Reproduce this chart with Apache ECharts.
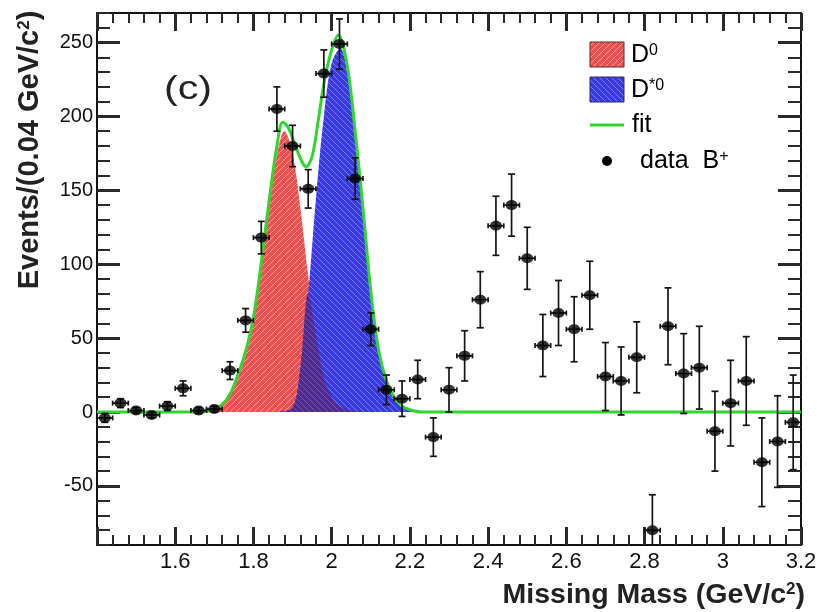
<!DOCTYPE html>
<html>
<head>
<meta charset="utf-8">
<script src="https://cdn.jsdelivr.net/npm/echarts@6/dist/echarts.min.js"></script>
<style>
html,body{margin:0;padding:0;background:#fff;}
#chart{width:817px;height:612px;}
</style>
</head>
<body>
<div id="chart"></div>
<script>
// ---------------- data ----------------
const binCenters = [1.42,1.46,1.50,1.54,1.58,1.62,1.66,1.70,1.74,1.78,1.82,1.86,1.90,1.94,1.98,2.02,2.06,2.10,2.14,2.18,
                    2.22,2.26,2.30,2.34,2.38,2.42,2.46,2.50,2.54,2.58,2.62,2.66,2.70,2.74,2.78,2.82,2.86,2.90,2.94,2.98,
                    3.02,3.06,3.10,3.14,3.18];
const counts = [-4,6,1,-2,4,16,1,2,28,62,118,205,180,151,229,249,158,56,15,9,
                22,-17,15,38,76,126,140,104,45,67,56,79,24,21,37,-80,58,26,30,-13,
                6,21,-34,-20,-7];
const countErrors = [3,3,2,2,3,5,2,2,6,8,11,15,14,13,16,17,14,11,10,12,
                     13,13,15,17,19,20,21,21,21,22,22,23,23,23,24,24,26,27,28,27,
                     29,30,30,31,32];
const binHalfWidth = 0.02;

const fitX = [1.40,1.66,1.68,1.70,1.72,1.74,1.76,1.78,1.80,1.82,1.84,1.86,1.875,1.89,1.91,1.935,1.95,1.965,1.98,2.00,2.017,2.04,2.06,2.08,2.10,2.12,2.14,2.16,2.18,2.20,2.23,3.20];
const fitY = [0,0,0.5,1.5,5,12,25,41,64,101,143,180,196,192,178,166,173,196,222,245,255,234,190,138,82,42,21,10,4,1.5,0,0];

const d0X = [1.66,1.70,1.72,1.74,1.76,1.78,1.80,1.82,1.84,1.86,1.879,1.90,1.92,1.94,1.96,1.98,2.00,2.02,2.04,2.08];
const d0Y = [0,1,4,11,23,38,60,98,140,174,190,175,138,92,52,24,10,4,1.5,0];

const dstarX = [1.86,1.90,1.92,1.94,1.96,1.98,2.00,2.022,2.04,2.06,2.08,2.10,2.12,2.14,2.16,2.18,2.20,2.22];
const dstarY = [0,3,30,80,145,200,236,246,230,188,136,80,40,20,9,4,1.5,0];

const overlapX = [1.86,1.90,1.92,1.94,1.96,1.98,2.00,2.02,2.04,2.08];
const overlapY = [0,3,30,80,52,24,10,4,1.5,0];

const yMajorTicks = [-50,0,50,100,150,200,250];

// ---------------- styling helpers ----------------
const FONT = '"Liberation Sans", Arial, Helvetica, sans-serif';
function hatch(base, line, dir) {
  const s = 6;
  const c = document.createElement('canvas');
  c.width = s; c.height = s;
  const g = c.getContext('2d');
  g.fillStyle = base; g.fillRect(0, 0, s, s);
  g.strokeStyle = line; g.lineWidth = 1;
  g.beginPath();
  if (dir > 0) { g.moveTo(-1, s + 1); g.lineTo(s + 1, -1); }
  else { g.moveTo(-1, -1); g.lineTo(s + 1, s + 1); }
  g.stroke();
  return c;
}
const redPat = hatch('#ee4f4f', '#ff9c9c', 1);
const bluePat = hatch('#3838e4', '#7c7cff', -1);
const purplePat = hatch('#4f2b90', '#7058aa', -1);
const GREEN = '#2fd62f';

const zip = (xs, ys) => xs.map((x, i) => [x, ys[i]]);

function renderErr(params, api) {
  const x = api.value(0), y = api.value(1), e = api.value(2);
  const cs = params.coordSys;
  const top = api.coord([x, y + e]);
  const bot = api.coord([x, y - e]);
  const c = api.coord([x, y]);
  const l = api.coord([x - binHalfWidth, y]);
  const r = api.coord([x + binHalfWidth, y]);
  const yMin = cs.y, yMax = cs.y + cs.height;
  const ty = Math.max(yMin, Math.min(yMax, top[1]));
  const by = Math.max(yMin, Math.min(yMax, bot[1]));
  const st = {stroke: '#151515', lineWidth: 1.7, fill: null};
  const ch = [
    {type: 'line', shape: {x1: c[0], y1: ty, x2: c[0], y2: by}, style: st},
    {type: 'line', shape: {x1: l[0], y1: c[1], x2: r[0], y2: c[1]}, style: st},
    {type: 'line', shape: {x1: l[0], y1: c[1] - 2.5, x2: l[0], y2: c[1] + 2.5}, style: st},
    {type: 'line', shape: {x1: r[0], y1: c[1] - 2.5, x2: r[0], y2: c[1] + 2.5}, style: st}
  ];
  if (top[1] >= yMin) ch.push({type: 'line', shape: {x1: c[0] - 3.5, y1: top[1], x2: c[0] + 3.5, y2: top[1]}, style: st});
  if (bot[1] <= yMax) ch.push({type: 'line', shape: {x1: c[0] - 3.5, y1: bot[1], x2: c[0] + 3.5, y2: bot[1]}, style: st});
  return {type: 'group', children: ch};
}

const axisLineStyle = {color: '#111', width: 2};
const majorTickStyle = {color: '#2a2a2a', width: 3};
const minorTickStyle = {color: '#2a2a2a', width: 2};

const xBase = {
  type: 'value', min: 1.4, max: 3.2, interval: 0.2,
  axisLine: {show: true, onZero: false, lineStyle: axisLineStyle},
  axisTick: {show: true, inside: true, length: 18, lineStyle: majorTickStyle},
  minorTick: {show: true, splitNumber: 5, length: 10, lineStyle: minorTickStyle},
  splitLine: {show: false}, minorSplitLine: {show: false}
};
const yMinor = {
  type: 'value', min: -90, max: 270, interval: 10,
  axisLine: {show: true, onZero: false, lineStyle: axisLineStyle},
  axisTick: {show: true, inside: true, length: 13, lineStyle: minorTickStyle},
  splitLine: {show: false}
};
const yMajor = {
  type: 'value', min: -90, max: 270, interval: 10,
  axisLine: {show: false},
  axisTick: {show: true, inside: true, length: 23, lineStyle: majorTickStyle, customValues: yMajorTicks},
  axisLabel: {show: false},
  splitLine: {show: false}
};

const supRich = {
  m: {fontSize: 25, fontFamily: FONT, color: '#111'},
  s: {fontSize: 16, fontFamily: FONT, color: '#111', verticalAlign: 'top'}
};

const chart = echarts.init(document.getElementById('chart'), null, {renderer: 'canvas'});
chart.setOption({
  animation: false,
  backgroundColor: '#fff',
  grid: [
    {left: 97, right: 16, top: 13, bottom: 67, outerBoundsMode: 'none'},
    {left: 97, right: 16, top: 13, bottom: 67, outerBoundsMode: 'none'}
  ],
  xAxis: [
    Object.assign({}, xBase, {gridIndex: 0, position: 'bottom',
      axisLabel: {show: true, margin: 6, fontSize: 22, color: '#111', fontFamily: FONT,
        formatter: v => (Math.abs(v - 1.4) < 1e-6 ? '' : String(+(+v).toFixed(1)))}}),
    Object.assign({}, xBase, {gridIndex: 0, position: 'top', axisLabel: {show: false}}),
    {gridIndex: 1, type: 'value', min: 1.4, max: 3.2, interval: 0.2, show: false}
  ],
  yAxis: [
    Object.assign({}, yMinor, {gridIndex: 0, position: 'left',
      axisLabel: {show: true, margin: 4, fontSize: 20, color: '#111', fontFamily: FONT,
        formatter: v => (Math.round(v) % 50 === 0 ? String(Math.round(v)) : '')}}),
    Object.assign({}, yMinor, {gridIndex: 0, position: 'right', axisLabel: {show: false}}),
    Object.assign({}, yMajor, {gridIndex: 1, position: 'left'}),
    Object.assign({}, yMajor, {gridIndex: 1, position: 'right'})
  ],
  series: [
    {type: 'line', name: 'D0', xAxisIndex: 0, yAxisIndex: 0, data: zip(d0X, d0Y), smooth: 0.35,
     showSymbol: false, symbol: 'none', lineStyle: {width: 0, opacity: 0},
     areaStyle: {color: {image: redPat, repeat: 'repeat'}, opacity: 1}, z: 2, silent: true},
    {type: 'line', name: 'D*0', xAxisIndex: 0, yAxisIndex: 0, data: zip(dstarX, dstarY), smooth: 0.35,
     showSymbol: false, symbol: 'none', lineStyle: {width: 0, opacity: 0},
     areaStyle: {color: {image: bluePat, repeat: 'repeat'}, opacity: 1}, z: 3, silent: true},
    {type: 'line', name: 'overlap', xAxisIndex: 0, yAxisIndex: 0, data: zip(overlapX, overlapY), smooth: 0.35,
     showSymbol: false, symbol: 'none', lineStyle: {width: 0, opacity: 0},
     areaStyle: {color: {image: purplePat, repeat: 'repeat'}, opacity: 1}, z: 4, silent: true},
    {type: 'line', name: 'fit', xAxisIndex: 0, yAxisIndex: 0, data: zip(fitX, fitY), smooth: 0.35,
     showSymbol: false, symbol: 'none', lineStyle: {color: GREEN, width: 3}, z: 5, silent: true},
    {type: 'custom', name: 'errors', xAxisIndex: 0, yAxisIndex: 0, renderItem: renderErr,
     data: binCenters.map((x, i) => [x, counts[i], countErrors[i]]), z: 6, silent: true},
    {type: 'scatter', name: 'data B+', xAxisIndex: 0, yAxisIndex: 0,
     data: zip(binCenters, counts), symbol: 'circle', symbolSize: [12, 10],
     itemStyle: {color: '#000'}, z: 7, silent: true}
  ],
  graphic: [
    // axis titles
    {type: 'text', x: 30, y: 150, rotation: Math.PI / 2, z: 100,
     style: {text: '{m|Events/(0.04 GeV/c}{s|2}{m|)}', align: 'center', verticalAlign: 'middle',
       rich: {m: {fontSize: 29, fontWeight: 'bold', fontFamily: FONT, fill: '#222'},
              s: {fontSize: 17, fontWeight: 'bold', fontFamily: FONT, fill: '#222', verticalAlign: 'top'}}}},
    {type: 'text', x: 805, y: 595, z: 100,
     style: {text: '{m|Missing Mass (GeV/c}{s|2}{m|)}', align: 'right', verticalAlign: 'middle',
       rich: {m: {fontSize: 28.5, fontWeight: 'bold', fontFamily: FONT, fill: '#222'},
              s: {fontSize: 17, fontWeight: 'bold', fontFamily: FONT, fill: '#222', verticalAlign: 'top'}}}},
    // panel label
    {type: 'text', x: 188, y: 90, z: 100, scaleX: 1.25,
     style: {text: '(c)', align: 'center', verticalAlign: 'middle', fontSize: 33, fontFamily: FONT, fill: '#222'}},
    // legend
    {type: 'rect', shape: {x: 590, y: 42, width: 34, height: 25}, z: 100,
     style: {fill: {image: redPat, repeat: 'repeat'}, stroke: '#5a2a2a', lineWidth: 1}},
    {type: 'rect', shape: {x: 590, y: 77, width: 34, height: 25}, z: 100,
     style: {fill: {image: bluePat, repeat: 'repeat'}, stroke: '#2a2a5a', lineWidth: 1}},
    {type: 'line', shape: {x1: 590, y1: 125, x2: 624, y2: 125}, z: 100,
     style: {stroke: GREEN, lineWidth: 3}},
    {type: 'circle', shape: {cx: 607, cy: 161, r: 5}, z: 100, style: {fill: '#000'}},
    {type: 'text', x: 631, y: 55, z: 100,
     style: {text: '{m|D}{s|0}', verticalAlign: 'middle', rich: supRich}},
    {type: 'text', x: 631, y: 90, z: 100,
     style: {text: '{m|D}{s|*0}', verticalAlign: 'middle', rich: supRich}},
    {type: 'text', x: 632, y: 125, z: 100,
     style: {text: '{m|fit}', verticalAlign: 'middle', rich: supRich}},
    {type: 'text', x: 640, y: 161, z: 100,
     style: {text: '{m|data  B}{s|+}', verticalAlign: 'middle', rich: supRich}}
  ]
});
</script>
</body>
</html>
